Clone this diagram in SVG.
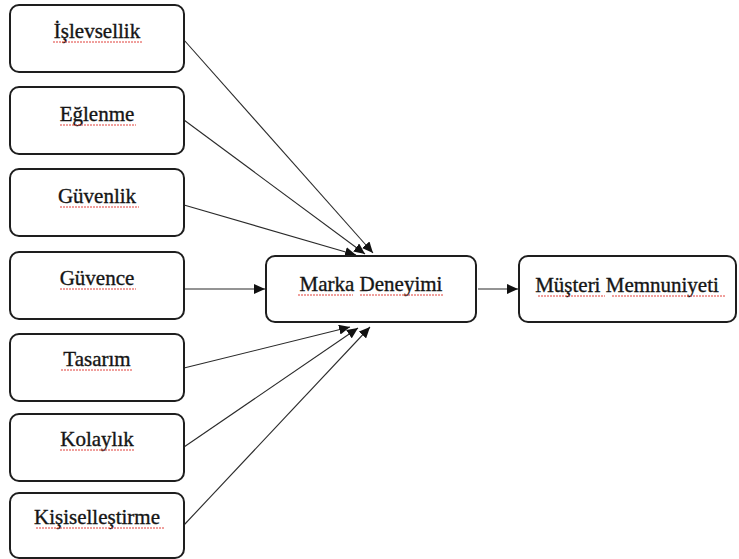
<svg xmlns="http://www.w3.org/2000/svg" width="739" height="559" viewBox="0 0 739 559">
  <style>
    .box { fill: #ffffff; stroke: #1e1e1e; stroke-width: 2; }
    .lbl { font-family: "Liberation Serif", "Times New Roman", serif; font-size: 21px; fill: #151515; stroke: #151515; stroke-width: 0.35; text-anchor: middle; }
    .spell { stroke: #e0403a; stroke-width: 1; stroke-dasharray: 2 1; fill: none; }
    .edge { stroke: #2a2a2a; stroke-width: 1.1; fill: none; marker-end: url(#head); }
  </style>
  <defs>
    <marker id="head" markerUnits="userSpaceOnUse" markerWidth="12" markerHeight="10" refX="11" refY="5" orient="auto">
      <path d="M0,0 L11,5 L0,10 Z" fill="#111"/>
    </marker>
  </defs>
  <rect width="739" height="559" fill="#ffffff"/>

  <g id="connectors">
    <line class="edge" x1="184" y1="40" x2="373" y2="253"/>
    <line class="edge" x1="184" y1="120" x2="365" y2="254"/>
    <line class="edge" x1="184" y1="205" x2="356" y2="255"/>
    <line class="edge" x1="184" y1="289" x2="265" y2="289"/>
    <line class="edge" x1="184" y1="368" x2="350" y2="327"/>
    <line class="edge" x1="184" y1="447" x2="358" y2="328"/>
    <line class="edge" x1="184" y1="525" x2="370" y2="327"/>
    <line class="edge" x1="478" y1="289" x2="518" y2="289"/>
  </g>

  <g id="islevsellik">
    <rect class="box" x="10" y="5" width="174" height="67" rx="9"/>
    <text class="lbl" x="97" y="38">İşlevsellik</text>
    <line class="spell" x1="53" y1="42" x2="142" y2="42"/>
  </g>
  <g id="eglenme">
    <rect class="box" x="10" y="87" width="174" height="67" rx="9"/>
    <text class="lbl" x="97" y="121">Eğlenme</text>
    <line class="spell" x1="60" y1="125" x2="136" y2="125"/>
  </g>
  <g id="guvenlik">
    <rect class="box" x="10" y="169" width="174" height="67" rx="9"/>
    <text class="lbl" x="97" y="203">Güvenlik</text>
    <line class="spell" x1="60" y1="207" x2="139" y2="207"/>
  </g>
  <g id="guvence">
    <rect class="box" x="10" y="252" width="174" height="67" rx="9"/>
    <text class="lbl" x="97" y="285">Güvence</text>
    <line class="spell" x1="60" y1="289" x2="136" y2="289"/>
  </g>
  <g id="tasarim">
    <rect class="box" x="10" y="334" width="174" height="67" rx="9"/>
    <text class="lbl" x="97" y="366">Tasarım</text>
    <line class="spell" x1="61" y1="370" x2="133" y2="370"/>
  </g>
  <g id="kolaylik">
    <rect class="box" x="10" y="414" width="174" height="67" rx="9"/>
    <text class="lbl" x="97" y="446">Kolaylık</text>
    <line class="spell" x1="60" y1="450" x2="135" y2="450"/>
  </g>
  <g id="kisisellestirme">
    <rect class="box" x="10" y="493" width="174" height="65" rx="9"/>
    <text class="lbl" x="97" y="524">Kişiselleştirme</text>
    <line class="spell" x1="36" y1="528" x2="164" y2="528"/>
  </g>

  <g id="marka-deneyimi">
    <rect class="box" x="266" y="256" width="210" height="66" rx="9"/>
    <text class="lbl" x="371" y="291">Marka Deneyimi</text>
    <line class="spell" x1="298" y1="295" x2="353" y2="295"/>
    <line class="spell" x1="360" y1="295" x2="444" y2="295"/>
  </g>

  <g id="musteri-memnuniyeti">
    <rect class="box" x="519" y="256" width="217" height="66" rx="9"/>
    <text class="lbl" x="627" y="292">Müşteri Memnuniyeti</text>
    <line class="spell" x1="538" y1="296" x2="605" y2="296"/>
    <line class="spell" x1="612" y1="296" x2="725" y2="296"/>
  </g>
</svg>
